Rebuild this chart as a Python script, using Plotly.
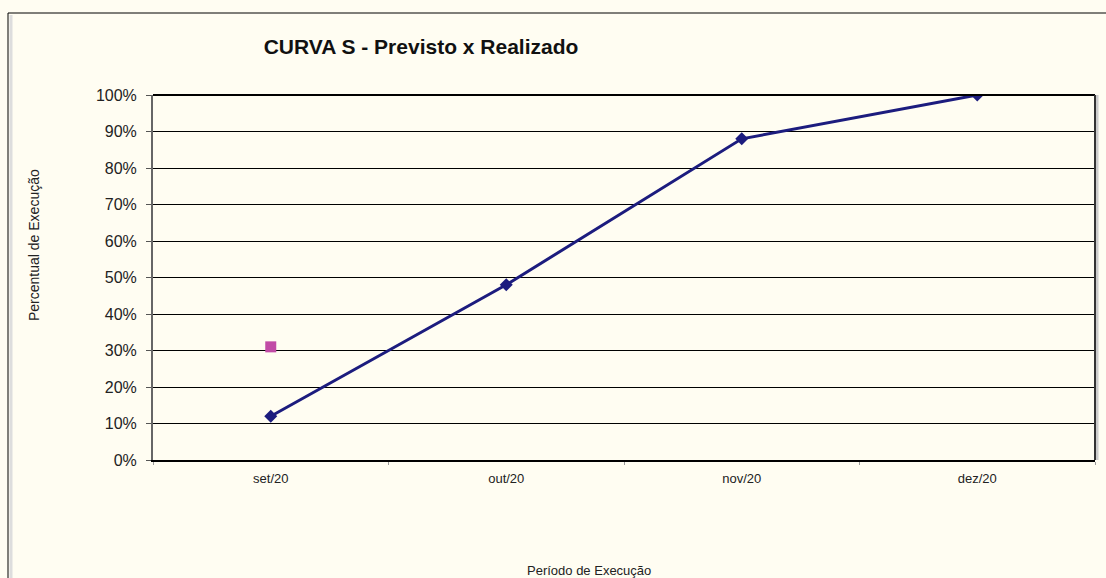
import plotly.graph_objects as go

categories = ["set/20", "out/20", "nov/20", "dez/20"]
previsto = [0.12, 0.48, 0.88, 1.00]
realizado_cats = ["set/20"]
realizado = [0.31]
y_ticks = [0, 0.1, 0.2, 0.3, 0.4, 0.5, 0.6, 0.7, 0.8, 0.9, 1.0]

BG = "#FFFDF2"
FONT = "Liberation Sans, Arial, sans-serif"

fig = go.Figure()
fig.add_trace(go.Scatter(
    x=categories, y=previsto, mode="lines+markers", name="Previsto",
    line=dict(color="#1C1C7E", width=3),
    marker=dict(symbol="diamond", size=10, color="#1C1C7E"),
))
fig.add_trace(go.Scatter(
    x=realizado_cats, y=realizado, mode="markers", name="Realizado",
    marker=dict(symbol="square", size=11, color="#C14BA6"),
))

W, H = 1106, 578
L, R, T, B = 153, 11, 95, 118
pw, ph = W - L - R, H - T - B

def px(x):
    return (x - L) / pw

def py(y):
    return (H - B - y) / ph

fig.update_layout(
    width=W, height=H,
    margin=dict(l=L, r=R, t=T, b=B),
    paper_bgcolor=BG, plot_bgcolor=BG,
    showlegend=False,
    font=dict(family=FONT, color="#222222"),
    title=dict(text="<b>CURVA S - Previsto x Realizado</b>", x=421 / W, xanchor="center",
               y=1 - 47 / H, yanchor="middle", font=dict(size=21, color="#111111", family=FONT)),
    xaxis=dict(
        type="category", categoryorder="array", categoryarray=categories,
        range=[-0.5, 3.5], tickson="boundaries", ticks="outside", ticklen=3,
        tickcolor="#999999", showgrid=False, zeroline=False,
        showline=True, linecolor="#000000", linewidth=2,
        tickfont=dict(size=13, color="#222222"), ticklabelstandoff=5,
    ),
    yaxis=dict(
        range=[0, 1], tickvals=y_ticks, tickformat=".0%",
        ticks="outside", ticklen=5, tickcolor="#555555",
        showgrid=True, gridcolor="#000000", gridwidth=1, zeroline=False,
        showline=True, linecolor="#666666", linewidth=2,
        tickfont=dict(size=16, color="#222222"), ticklabelstandoff=6,
    ),
    annotations=[
        dict(text="Percentual de Execução", textangle=-90, x=px(34), y=py(245),
             xanchor="center", yanchor="middle",
             xref="paper", yref="paper", showarrow=False,
             font=dict(size=14, color="#222222", family=FONT)),
        dict(text="Período de Execução", x=px(589), y=py(570),
             xanchor="center", yanchor="middle",
             xref="paper", yref="paper", showarrow=False,
             font=dict(size=13, color="#222222", family=FONT)),
    ],
    shapes=[
        dict(type="line", xref="paper", yref="paper", x0=0, x1=1, y0=1, y1=1,
             line=dict(color="#000000", width=2)),
        dict(type="line", xref="paper", yref="paper", x0=px(1097), x1=px(1097), y0=0, y1=1,
             line=dict(color="#CCCCCC", width=3)),
        dict(type="line", xref="paper", yref="paper", x0=1, x1=1, y0=0, y1=1,
             line=dict(color="#333333", width=2)),
        dict(type="rect", xref="paper", yref="paper", x0=px(8), x1=px(1130), y0=py(13), y1=py(600),
             line=dict(color="#000000", width=1), layer="below"),
        dict(type="line", xref="paper", yref="paper", x0=px(11), x1=px(11), y0=py(15), y1=py(600),
             line=dict(color="#DDDDDD", width=3), layer="below"),
    ],
)

fig.write_html("out.html", config={"displayModeBar": False},
               post_script="document.body.style.margin='0';document.body.style.overflow='hidden';")
